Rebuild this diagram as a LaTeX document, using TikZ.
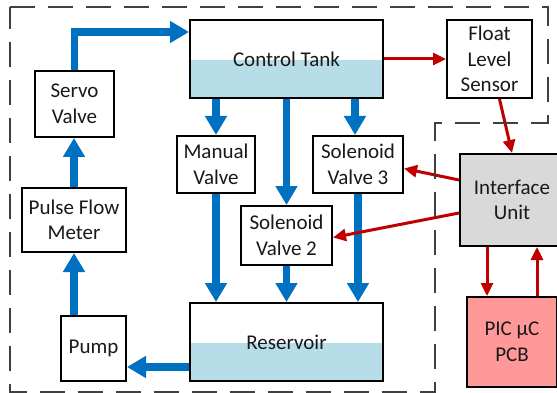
\documentclass[tikz,border=0pt]{standalone}
\usepackage{fontspec}
\setmainfont{Carlito}
\usetikzlibrary{arrows.meta}
\definecolor{flowblue}{HTML}{0070C0}
\definecolor{sigred}{HTML}{C00000}
\definecolor{water}{HTML}{B7DEE8}
\definecolor{unitgray}{HTML}{D9D9D9}
\definecolor{pcbpink}{HTML}{FF9999}
\pgfdeclarelayer{bg}
\pgfsetlayers{bg,main}
\tikzset{
  box/.style={draw=black, line width=2pt, fill=white, align=center, inner sep=0pt,
    font=\fontsize{21}{25.5}\selectfont, text=black!90},
  tankbox/.style={box, path picture={\fill[water] ([yshift=-1pt]path picture bounding box.west) rectangle (path picture bounding box.south east);}},
  flow/.style={draw=flowblue, line width=7.5pt, -{Triangle[width=21pt,length=19pt]}},
  sig/.style={draw=sigred, line width=3pt, -{Triangle[width=12pt,length=13pt]}},
  zone/.style={draw=black!75, line width=1.6pt, dash pattern=on 25pt off 13pt},
}
\begin{document}
\begin{tikzpicture}[x=1pt,y=-1pt]
\useasboundingbox (0,0) rectangle (557,393);
\clip (0,0) rectangle (557,393);

% system boundary
\draw[zone] (10,7) -- (548,7) -- (548,123) -- (435,123) -- (435,392) -- (10,392) -- cycle;

% components
\node[tankbox, minimum width=193pt, minimum height=78pt] (tank) at (286.5,59) {Control Tank};
\node[tankbox, minimum width=193pt, minimum height=78pt] (res) at (286.5,342) {Reservoir};
\node[box, minimum width=79pt, minimum height=66pt] (servo) at (74.5,104) {Servo\\Valve};
\node[box, minimum width=104pt, minimum height=64pt] (pfm) at (74,220) {Pulse Flow\\Meter};
\node[box, minimum width=65pt, minimum height=65pt] (pump) at (93.5,348.5) {Pump};
\node[box, minimum width=78pt, minimum height=57pt] (manual) at (216,164.5) {Manual\\Valve};
\node[box, minimum width=90pt, minimum height=57pt] (sv3) at (358,164.5) {Solenoid\\Valve 3};
\node[box, minimum width=91pt, minimum height=59pt] (sv2) at (286.5,235.5) {Solenoid\\Valve 2};
\node[box, minimum width=85pt, minimum height=78pt] (float) at (489.5,59) {Float\\Level\\Sensor};
\node[box, fill=unitgray, minimum width=104pt, minimum height=92pt] (iface) at (512,200) {Interface\\Unit};
\node[box, fill=pcbpink, minimum width=90pt, minimum height=90pt] (pic) at (512,342) {PIC μC\\PCB};

\coordinate (tankin) at ([yshift=-13pt]tank.north west);
\coordinate (resout) at ([yshift=-25pt]res.west);

\begin{pgfonlayer}{bg}
% water flow
\draw[flow] (tank.south -| manual.north) -- (manual.north);
\draw[flow] (tank.south -| sv2.north) -- (sv2.north);
\draw[flow] ([xshift=-3pt]tank.south -| sv3.north) -- ([xshift=-3pt]sv3.north);
\draw[flow] (manual.south) -- (manual.south |- res.north);
\draw[flow] (sv2.south) -- (sv2.south |- res.north);
\draw[flow] (sv3.south) -- (sv3.south |- res.north);
\draw[flow] (resout) -- (resout -| pump.east);
\draw[flow] (pfm.south |- pump.north) -- (pfm.south);
\draw[flow] (pfm.north) -- (pfm.north |- servo.south);
\draw[flow, line join=miter] (servo.north) |- (tankin);
% signals
\draw[sig] (tank.east) -- (float.west);
\draw[sig] ([xshift=10pt]float.south) -- (iface.north);
\draw[sig] ([yshift=20pt]iface.west) -- ([yshift=-4pt]sv3.east);
\draw[sig] ([yshift=-13pt]iface.west) -- ([yshift=-2pt]sv2.east);
\draw[sig] ([xshift=-25pt]iface.south) -- ([xshift=-25pt]pic.north);
\draw[sig] ([xshift=25pt]pic.north) -- ([xshift=25pt]iface.south);
\end{pgfonlayer}
\end{tikzpicture}
\end{document}
